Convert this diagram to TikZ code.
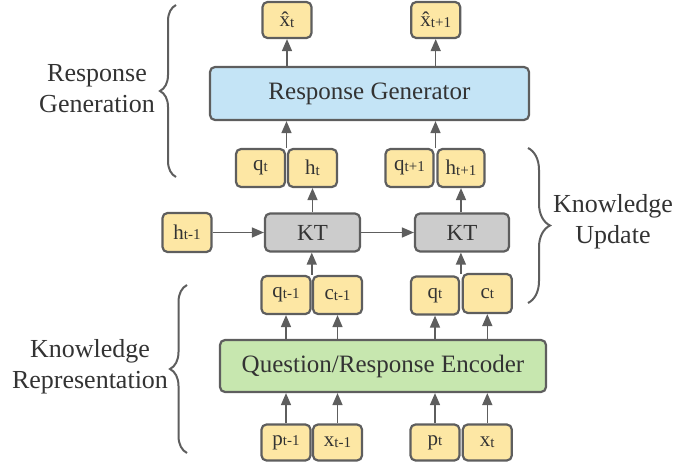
\documentclass[tikz,border=0pt]{standalone}
\usepackage{fontspec}
\setmainfont{Liberation Serif}
\usetikzlibrary{arrows.meta,decorations.pathreplacing,calc}
\definecolor{bd}{HTML}{5E5E5E}
\definecolor{txt}{HTML}{333333}
\definecolor{yel}{HTML}{FDE7A4}
\definecolor{blu}{HTML}{C4E4F6}
\definecolor{grn}{HTML}{C7E7AF}
\definecolor{gry}{HTML}{CCCCCC}
\newcommand\lbl[2]{#1\raisebox{-0.5pt}{\fontsize{15}{15}\selectfont #2}}
\tikzset{
  vbox/.style={draw=bd, line width=2.2pt, rounded corners=5pt, fill=yel,
    minimum width=49pt, minimum height=38pt, inner sep=0pt,
    font=\fontsize{21}{25}\selectfont, text=txt},
  bigbox/.style={draw=bd, line width=2.2pt, rounded corners=5pt, inner sep=0pt,
    font=\fontsize{25}{30}\selectfont, text=txt},
  conn/.style={draw=bd, line width=1.5pt, -{Triangle[length=12pt,width=10pt]}},
  brc/.style={draw=bd, line width=2pt, decorate},
  grouplbl/.style={font=\fontsize{26}{31}\selectfont, text=txt, align=center, inner sep=0pt}
}
\begin{document}
\begin{tikzpicture}[x=1pt,y=-1pt]
\useasboundingbox (0,0) rectangle (678,465);
% top outputs
\node[vbox, minimum height=36pt] (xh1) at (287,20) {\lbl{\^{x}}{t}};
\node[vbox, minimum height=36pt] (xh2) at (435.7,20) {\lbl{\^{x}}{t+1}};
% response generator
\node[bigbox, fill=blu, minimum width=319pt, minimum height=53pt] (rg) at (369.5,93.5) {Response Generator};
% q/h
\node[vbox] (qt) at (260.5,168) {\lbl{q}{t}};
\node[vbox] (ht) at (312.5,168) {\lbl{h}{t}};
\node[vbox, minimum width=48pt] (qt1) at (409.5,168) {\lbl{q}{t+1}};
\node[vbox, minimum width=47pt] (ht1) at (461,168) {\lbl{h}{t+1}};
% KT row
\node[vbox, minimum height=39pt] (hm1) at (187,232.5) {\lbl{h}{t-1}};
\node[bigbox, fill=gry, minimum width=95pt, minimum height=38pt, font=\fontsize{23}{28}\selectfont] (kt1) at (312.5,232.5) {KT};
\node[bigbox, fill=gry, minimum width=94pt, minimum height=38pt, font=\fontsize{23}{28}\selectfont] (kt2) at (462,232.5) {KT};
% q/c
\node[vbox] (qm1) at (286,295) {\lbl{q}{t-1}};
\node[vbox] (cm1) at (337.5,295) {\lbl{c}{t-1}};
\node[vbox, minimum width=48pt] (qtl) at (435,295.5) {\lbl{q}{t}};
\node[vbox, minimum height=39pt] (ctl) at (487.3,293.5) {\lbl{c}{t}};
% encoder
\node[bigbox, fill=grn, minimum width=326pt, minimum height=52pt] (enc) at (383,366) {Question/Response Encoder};
% inputs
\node[vbox, minimum height=36pt] (pm1) at (286,442.5) {\lbl{p}{t-1}};
\node[vbox, minimum height=36pt] (xm1) at (337.5,442.5) {\lbl{x}{t-1}};
\node[vbox, minimum height=36pt] (ptl) at (435,442.5) {\lbl{p}{t}};
\node[vbox, minimum height=36pt] (xtl) at (487.3,442.5) {\lbl{x}{t}};
% gap coordinates
\coordinate (g1) at ($(qt.north east)!0.5!(ht.north west)$);
\coordinate (g2) at ($(qt1.north east)!0.5!(ht1.north west)$);
\coordinate (g3) at ($(qm1.north east)!0.5!(cm1.north west)$);
\coordinate (g4) at ($(qtl.north east)!0.5!(ctl.north west)$);
% connectors
\draw[conn] (rg.north -| xh1) -- (xh1.south);
\draw[conn] (rg.north -| xh2) -- (xh2.south);
\draw[conn] (g1) -- (g1 |- rg.south);
\draw[conn] (g2) -- (g2 |- rg.south);
\draw[conn] (kt1.north) -- (ht.south);
\draw[conn] (kt2.north -| ht1) -- (ht1.south);
\draw[conn] (hm1.east) -- (kt1.west);
\draw[conn] (kt1.east) -- (kt2.west);
\draw[conn] (g3) -- (g3 |- kt1.south);
\draw[conn] (g4) -- (g4 |- kt2.south);
\draw[conn] (enc.north -| qm1) -- (qm1.south);
\draw[conn] (enc.north -| cm1) -- (cm1.south);
\draw[conn] (enc.north -| qtl) -- (qtl.south);
\draw[conn] (enc.north -| ctl) -- (ctl.south);
\draw[conn] (pm1.north) -- (pm1.north |- enc.south);
\draw[conn] (xm1.north) -- (xm1.north |- enc.south);
\draw[conn] (ptl.north) -- (ptl.north |- enc.south);
\draw[conn] (xtl.north) -- (xtl.north |- enc.south);
% braces
\coordinate (b1a) at (176,5);
\coordinate (b1b) at (176,177);
\draw[brc, decoration={brace,amplitude=16pt}] (b1b) -- (b1a);
\node[grouplbl] (l1) at (97,89) {Response\\Generation};
\coordinate (b2a) at (528,148);
\coordinate (b2b) at (528,303);
\draw[brc, decoration={brace,amplitude=22pt}] (b2a) -- (b2b);
\node[grouplbl] (l2) at (613,222) {Knowledge\\Update};
\coordinate (b3a) at (187,285);
\coordinate (b3b) at (187,453);
\draw[brc, decoration={brace,amplitude=17pt}] (b3b) -- (b3a);
\node[grouplbl] (l3) at (90,367) {Knowledge\\Representation};
\end{tikzpicture}
\end{document}
